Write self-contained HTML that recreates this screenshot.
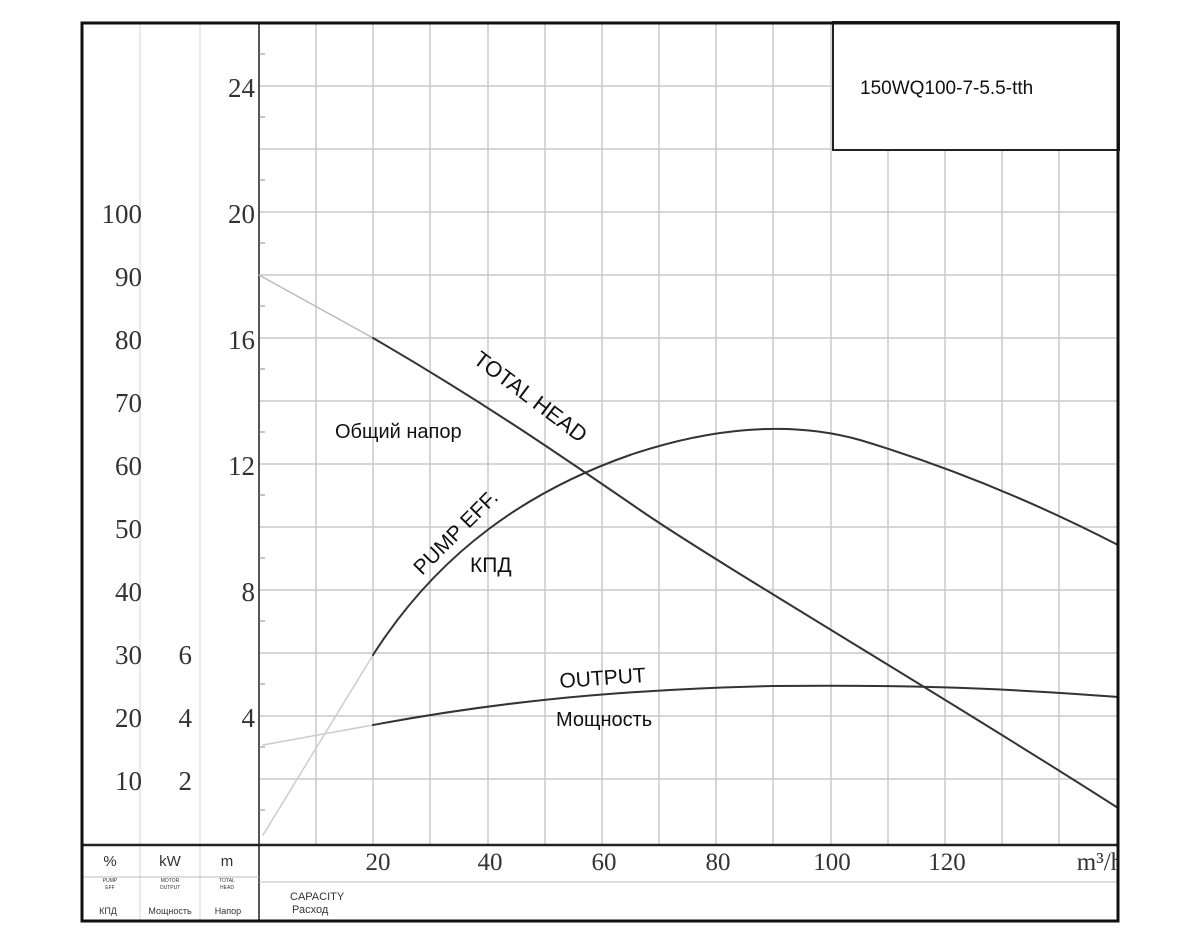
<!DOCTYPE html>
<html><head><meta charset="utf-8"><style>
html,body{margin:0;padding:0;background:#fff;}
svg{display:block;}
</style></head><body>
<svg width="1200" height="950" viewBox="0 0 1200 950" xmlns="http://www.w3.org/2000/svg">
<rect width="1200" height="950" fill="#fff"/>
<g stroke="#c8c8c8" stroke-width="1.5">
<line x1="316" y1="24" x2="316" y2="845"/><line x1="373" y1="24" x2="373" y2="845"/>
<line x1="430" y1="24" x2="430" y2="845"/><line x1="488" y1="24" x2="488" y2="845"/>
<line x1="545" y1="24" x2="545" y2="845"/><line x1="602" y1="24" x2="602" y2="845"/>
<line x1="659" y1="24" x2="659" y2="845"/><line x1="716" y1="24" x2="716" y2="845"/>
<line x1="773" y1="24" x2="773" y2="845"/><line x1="831" y1="24" x2="831" y2="845"/>
<line x1="888" y1="24" x2="888" y2="845"/><line x1="945" y1="24" x2="945" y2="845"/>
<line x1="1002" y1="24" x2="1002" y2="845"/><line x1="1059" y1="24" x2="1059" y2="845"/>
<line x1="259" y1="86" x2="1118" y2="86"/><line x1="259" y1="149" x2="1118" y2="149"/>
<line x1="259" y1="212" x2="1118" y2="212"/><line x1="259" y1="275" x2="1118" y2="275"/>
<line x1="259" y1="338" x2="1118" y2="338"/><line x1="259" y1="401" x2="1118" y2="401"/>
<line x1="259" y1="464" x2="1118" y2="464"/><line x1="259" y1="527" x2="1118" y2="527"/>
<line x1="259" y1="590" x2="1118" y2="590"/><line x1="259" y1="653" x2="1118" y2="653"/>
<line x1="259" y1="716" x2="1118" y2="716"/><line x1="259" y1="779" x2="1118" y2="779"/>
</g>
<g stroke="#dcdcdc" stroke-width="1.2">
<line x1="140" y1="24" x2="140" y2="920"/><line x1="200" y1="24" x2="200" y2="920"/>
</g>
<line x1="259" y1="24" x2="259" y2="920" stroke="#555" stroke-width="2"/>
<g stroke="#888" stroke-width="1">
<line x1="259" y1="54" x2="265" y2="54"/><line x1="259" y1="117" x2="265" y2="117"/>
<line x1="259" y1="180" x2="265" y2="180"/><line x1="259" y1="243" x2="265" y2="243"/>
<line x1="259" y1="306" x2="265" y2="306"/><line x1="259" y1="369" x2="265" y2="369"/>
<line x1="259" y1="432" x2="265" y2="432"/><line x1="259" y1="495" x2="265" y2="495"/>
<line x1="259" y1="558" x2="265" y2="558"/><line x1="259" y1="621" x2="265" y2="621"/>
<line x1="259" y1="684" x2="265" y2="684"/><line x1="259" y1="747" x2="265" y2="747"/>
<line x1="259" y1="810" x2="265" y2="810"/>
</g>
<rect x="833" y="22" width="286" height="128" fill="#fff" stroke="#222" stroke-width="2"/>
<text x="860" y="94" font-family="Liberation Sans, sans-serif" font-size="19" fill="#111">150WQ100-7-5.5-tth</text>
<g font-family="Liberation Serif, serif" font-size="27" fill="#333" text-anchor="end">
<text x="255" y="97">24</text><text x="255" y="223">20</text><text x="255" y="349">16</text>
<text x="255" y="475">12</text><text x="255" y="601">8</text><text x="255" y="727">4</text>
<text x="142" y="223">100</text><text x="142" y="286">90</text><text x="142" y="349">80</text>
<text x="142" y="412">70</text><text x="142" y="475">60</text><text x="142" y="538">50</text>
<text x="142" y="601">40</text><text x="142" y="664">30</text><text x="142" y="727">20</text>
<text x="142" y="790">10</text>
<text x="192" y="664">6</text><text x="192" y="727">4</text><text x="192" y="790">2</text>
</g>
<g fill="none" stroke-linecap="round">
<path d="M259,275 L373,338" stroke="#bbb" stroke-width="1.5"/>
<path d="M373,338 C480,400 560,455 640,510 S950,700 1118,808" stroke="#333" stroke-width="2"/>
<path d="M263,835 L373,655" stroke="#ccc" stroke-width="1.5"/>
<path d="M373,655 C440,550 530,490 630,455 C710,428 790,420 860,440 C960,470 1050,510 1118,545" stroke="#333" stroke-width="2"/>
<path d="M263,745 L373,725" stroke="#ccc" stroke-width="1.5"/>
<path d="M373,725 C480,705 600,690 773,686 C950,684 1050,692 1118,697" stroke="#333" stroke-width="2"/>
</g>
<g font-family="Liberation Sans, sans-serif" fill="#111">
<text x="472" y="362" font-size="22" transform="rotate(37 472 362)">TOTAL HEAD</text>
<text x="335" y="438" font-size="20">Общий напор</text>
<text x="422" y="576" font-size="21" transform="rotate(-45 422 576)">PUMP EFF.</text>
<text x="470" y="572" font-size="21">КПД</text>
<text x="560" y="688" font-size="21" transform="rotate(-4 560 688)">OUTPUT</text>
<text x="556" y="726" font-size="20">Мощность</text>
</g>
<line x1="82" y1="845" x2="1118" y2="845" stroke="#222" stroke-width="2.5"/>
<line x1="82" y1="877" x2="259" y2="877" stroke="#bbb" stroke-width="1"/>
<line x1="259" y1="882" x2="1118" y2="882" stroke="#bbb" stroke-width="1"/>
<g font-family="Liberation Serif, serif" font-size="25" fill="#333" text-anchor="middle">
<text x="378" y="870">20</text><text x="490" y="870">40</text><text x="604" y="870">60</text>
<text x="718" y="870">80</text><text x="832" y="870">100</text><text x="947" y="870">120</text>
<text x="1100" y="870">m³/h</text>
</g>
<rect x="1119" y="846" width="40" height="40" fill="#fff"/>
<g font-family="Liberation Sans, sans-serif" fill="#333" text-anchor="middle">
<text x="110" y="866" font-size="15">%</text><text x="170" y="866" font-size="15">kW</text><text x="227" y="866" font-size="15">m</text>
<text x="110" y="882" font-size="5">PUMP</text><text x="110" y="889" font-size="5">EFF</text>
<text x="170" y="882" font-size="5">MOTOR</text><text x="170" y="889" font-size="5">OUTPUT</text>
<text x="227" y="882" font-size="5">TOTAL</text><text x="227" y="889" font-size="5">HEAD</text>
<text x="108" y="914" font-size="9">КПД</text><text x="170" y="914" font-size="9">Мощность</text><text x="228" y="914" font-size="9">Напор</text>
</g>
<g font-family="Liberation Sans, sans-serif" fill="#333" font-size="11">
<text x="290" y="900">CAPACITY</text><text x="292" y="913">Расход</text>
</g>
<rect x="82" y="23" width="1036" height="898" fill="none" stroke="#111" stroke-width="3"/>
</svg>
</body></html>
